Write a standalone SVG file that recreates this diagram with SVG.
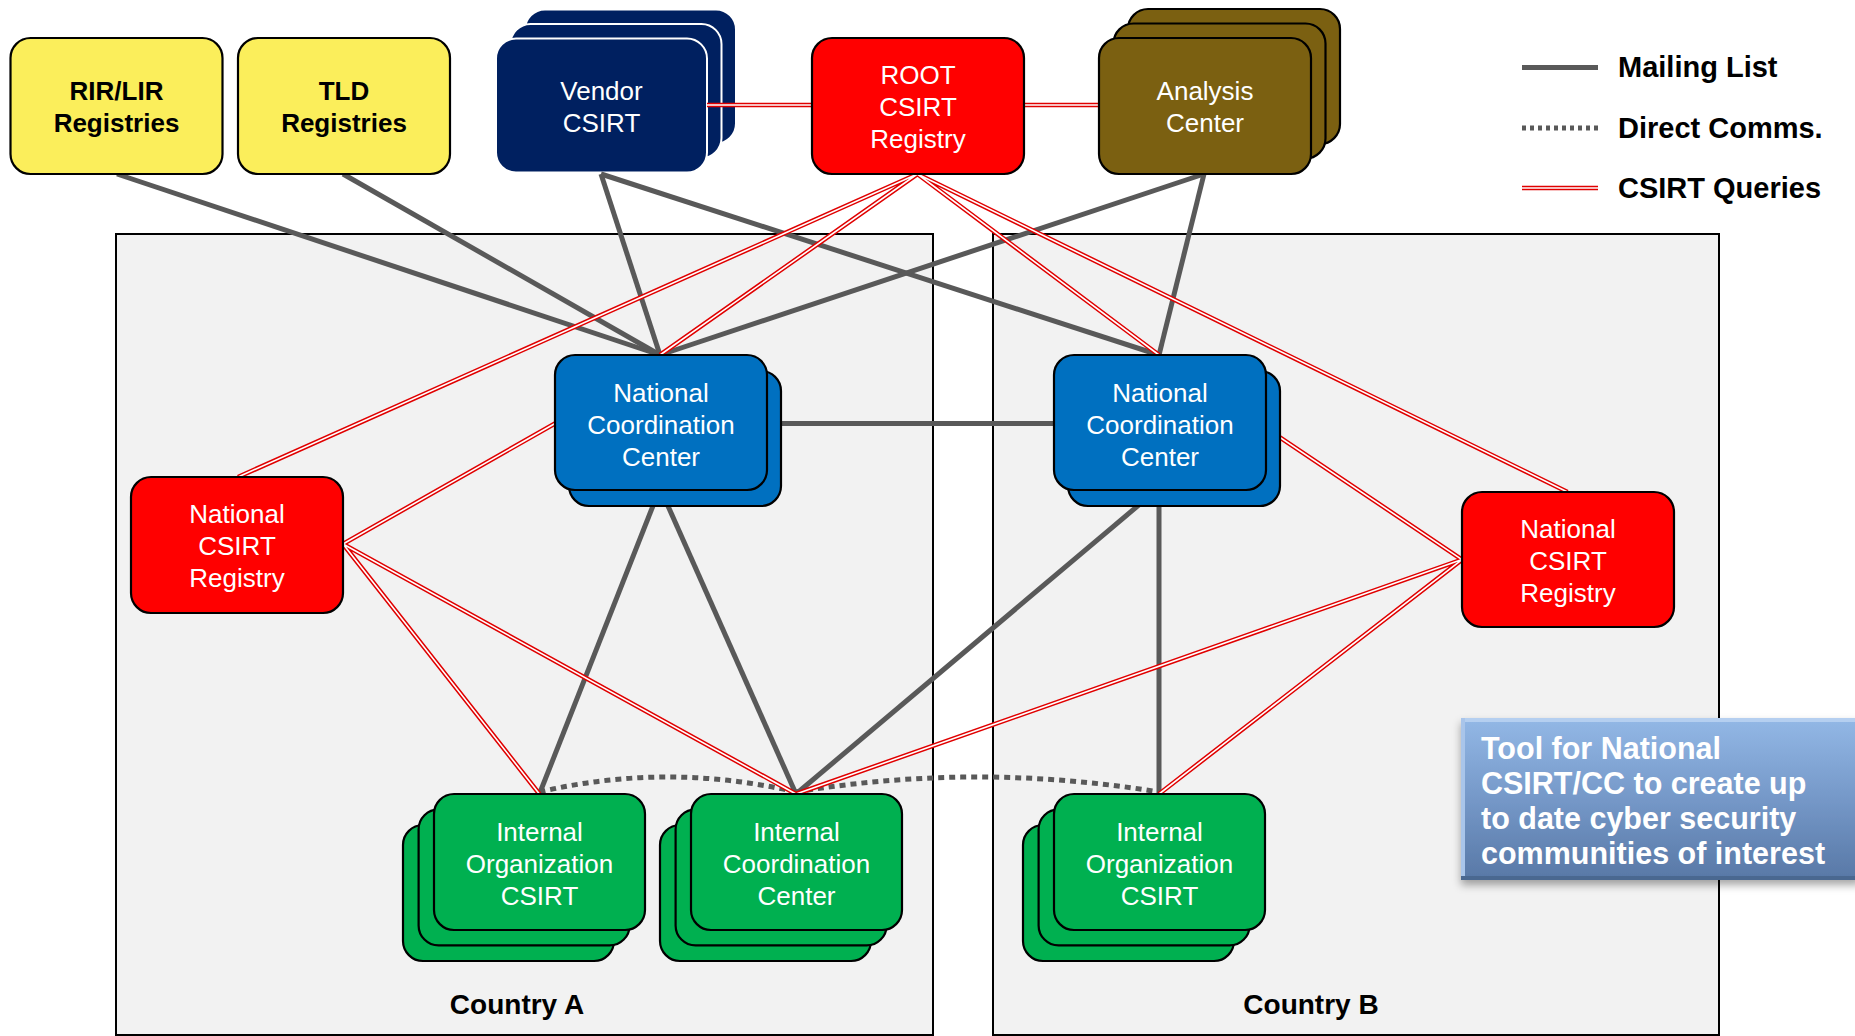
<svg xmlns="http://www.w3.org/2000/svg" xmlns:xlink="http://www.w3.org/1999/xlink" width="1855" height="1036" viewBox="0 0 1855 1036">
  <style>
    .country { fill: #f2f2f2; stroke: #000; stroke-width: 2; }
    .box { stroke: #000; stroke-width: 2.2; }
    .yellow { fill: #fbee5b; }
    .navy { fill: #002060; stroke: #fff; stroke-width: 2; }
    .red { fill: #ff0000; }
    .olive { fill: #7b6011; }
    .blue { fill: #0070c0; }
    .green { fill: #00b050; }
    .lbl { font-family: "Liberation Sans", Arial, sans-serif; font-size: 26px; fill: #fff; text-anchor: middle; }
    .lbl-dark { font-family: "Liberation Sans", Arial, sans-serif; font-size: 26px; font-weight: bold; fill: #000; text-anchor: middle; }
    .mail { fill: none; stroke: #595959; stroke-width: 5; }
    .direct { fill: none; stroke: #595959; stroke-width: 5; stroke-dasharray: 6 5; }
    .query-outer { fill: none; stroke: #e00000; stroke-width: 4.6; }
    .query-inner { fill: none; stroke: #fff; stroke-width: 1.6; }
    .legend { font-family: "Liberation Sans", Arial, sans-serif; font-size: 29px; font-weight: bold; fill: #000; }
    .country-lbl { font-family: "Liberation Sans", Arial, sans-serif; font-size: 28px; font-weight: bold; fill: #000; text-anchor: middle; }
    .tool-txt { font-family: "Liberation Sans", Arial, sans-serif; font-size: 30.5px; font-weight: bold; fill: #fff; }
  </style>
  <defs>
    <linearGradient id="toolGrad" x1="0" y1="0" x2="0" y2="1">
      <stop offset="0" stop-color="#93b8e6"/>
      <stop offset="0.5" stop-color="#7598c8"/>
      <stop offset="1" stop-color="#5878a6"/>
    </linearGradient>
    <filter id="shadow" x="-10%" y="-10%" width="130%" height="140%">
      <feDropShadow dx="0" dy="5" stdDeviation="4" flood-color="#000" flood-opacity="0.35"/>
    </filter>
    <!-- CSIRT query links, drawn twice to give the double red rule -->
    <path id="queries" d="
      M 707,105 L 812,105
      M 1024,105 L 1099,105
      M 917.4,174 L 238,477
      M 917.4,174 L 660,355
      M 917.4,174 L 1159,355
      M 917.4,174 L 1567.5,492
      M 343,544 L 555,423.5
      M 343,544 L 539.4,794
      M 343,544 L 796,794
      M 1462,559.6 L 1266,428
      M 1462,559.6 L 796,794
      M 1462,559.6 L 1159,794"/>
  </defs>

  <!-- country areas -->
  <rect class="country" x="116" y="234" width="817" height="801"/>
  <rect class="country" x="993" y="234" width="726" height="801"/>

  <!-- vendor stack sits under the links so the query rule runs over its back cards -->
  <g id="vendor-csirt">
    <rect class="navy" x="525" y="9.5" width="211" height="134" rx="20"/>
    <rect class="navy" x="510.5" y="24" width="211" height="134" rx="20"/>
    <rect class="navy" x="496" y="38.5" width="211" height="134" rx="20"/>
    <text class="lbl" x="601.5" y="100">Vendor</text>
    <text class="lbl" x="601.5" y="132">CSIRT</text>
  </g>

  <!-- connectors -->
  <g id="connectors">
    <g id="mailing-lists">
      <path class="mail" d="M 117,174 L 660,355"/>
      <path class="mail" d="M 343,174 L 660,355"/>
      <path class="mail" d="M 601,174 L 660,355"/>
      <path class="mail" d="M 601,174 L 1159,355"/>
      <path class="mail" d="M 1204,174 L 660,355"/>
      <path class="mail" d="M 1204,174 L 1159,355"/>
      <path class="mail" d="M 767,423.5 L 1054,423.5"/>
      <path class="mail" d="M 660,488 L 539.4,794"/>
      <path class="mail" d="M 660,488 L 796,794"/>
      <path class="mail" d="M 1159,488 L 796,794"/>
      <path class="mail" d="M 1159,488 L 1159,794"/>
    </g>
    <g id="direct-comms">
      <path class="direct" d="M 539.4,792 Q 667,762 796,792"/>
      <path class="direct" d="M 796,792 Q 977,762 1159,792"/>
    </g>
    <g id="csirt-queries">
      <use xlink:href="#queries" class="query-outer"/>
      <use xlink:href="#queries" class="query-inner"/>
    </g>
  </g>

  <!-- top row -->
  <g id="rir-lir">
    <rect class="box yellow" x="10.5" y="38" width="212" height="136" rx="20"/>
    <text class="lbl-dark" x="116.5" y="100">RIR/LIR</text>
    <text class="lbl-dark" x="116.5" y="132">Registries</text>
  </g>
  <g id="tld">
    <rect class="box yellow" x="238" y="38" width="212" height="136" rx="20"/>
    <text class="lbl-dark" x="344" y="100">TLD</text>
    <text class="lbl-dark" x="344" y="132">Registries</text>
  </g>
  <g id="root-registry">
    <rect class="box red" x="812" y="38" width="212" height="136" rx="20"/>
    <text class="lbl" x="918" y="84">ROOT</text>
    <text class="lbl" x="918" y="116">CSIRT</text>
    <text class="lbl" x="918" y="148">Registry</text>
  </g>
  <g id="analysis-center">
    <rect class="box olive" x="1128" y="9" width="212" height="135" rx="20"/>
    <rect class="box olive" x="1113.5" y="23.5" width="212" height="135" rx="20"/>
    <rect class="box olive" x="1099" y="38" width="212" height="136" rx="20"/>
    <text class="lbl" x="1205" y="100">Analysis</text>
    <text class="lbl" x="1205" y="132">Center</text>
  </g>

  <!-- legend -->
  <g id="legend">
    <line class="mail" x1="1522" y1="67.5" x2="1598" y2="67.5"/>
    <line x1="1522" y1="128" x2="1598" y2="128" stroke="#595959" stroke-width="5" stroke-dasharray="4 4"/>
    <line class="query-outer" x1="1522" y1="188" x2="1598" y2="188"/>
    <line class="query-inner" x1="1522" y1="188" x2="1598" y2="188"/>
    <text class="legend" x="1618" y="77">Mailing List</text>
    <text class="legend" x="1618" y="138">Direct Comms.</text>
    <text class="legend" x="1618" y="198">CSIRT Queries</text>
  </g>

  <!-- country A -->
  <g id="ncc-a">
    <rect class="box blue" x="569" y="371" width="212" height="135" rx="20"/>
    <rect class="box blue" x="555" y="355" width="212" height="135" rx="20"/>
    <text class="lbl" x="661" y="402">National</text>
    <text class="lbl" x="661" y="434">Coordination</text>
    <text class="lbl" x="661" y="466">Center</text>
  </g>
  <g id="registry-a">
    <rect class="box red" x="131" y="477" width="212" height="136" rx="20"/>
    <text class="lbl" x="237" y="523">National</text>
    <text class="lbl" x="237" y="555">CSIRT</text>
    <text class="lbl" x="237" y="587">Registry</text>
  </g>
  <g id="internal-org-a">
    <rect class="box green" x="403" y="825" width="211" height="136" rx="20"/>
    <rect class="box green" x="418.6" y="809.4" width="211" height="136" rx="20"/>
    <rect class="box green" x="434" y="794" width="211" height="136" rx="20"/>
    <text class="lbl" x="539.5" y="841">Internal</text>
    <text class="lbl" x="539.5" y="873">Organization</text>
    <text class="lbl" x="539.5" y="905">CSIRT</text>
  </g>
  <g id="internal-cc-a">
    <rect class="box green" x="660" y="825" width="211" height="136" rx="20"/>
    <rect class="box green" x="675.6" y="809.4" width="211" height="136" rx="20"/>
    <rect class="box green" x="691" y="794" width="211" height="136" rx="20"/>
    <text class="lbl" x="796.5" y="841">Internal</text>
    <text class="lbl" x="796.5" y="873">Coordination</text>
    <text class="lbl" x="796.5" y="905">Center</text>
  </g>
  <text class="country-lbl" x="517" y="1014">Country A</text>

  <!-- country B -->
  <g id="ncc-b">
    <rect class="box blue" x="1068" y="371" width="212" height="135" rx="20"/>
    <rect class="box blue" x="1054" y="355" width="212" height="135" rx="20"/>
    <text class="lbl" x="1160" y="402">National</text>
    <text class="lbl" x="1160" y="434">Coordination</text>
    <text class="lbl" x="1160" y="466">Center</text>
  </g>
  <g id="registry-b">
    <rect class="box red" x="1462" y="492" width="212" height="135" rx="20"/>
    <text class="lbl" x="1568" y="538">National</text>
    <text class="lbl" x="1568" y="570">CSIRT</text>
    <text class="lbl" x="1568" y="602">Registry</text>
  </g>
  <g id="internal-org-b">
    <rect class="box green" x="1023" y="825" width="211" height="136" rx="20"/>
    <rect class="box green" x="1038.6" y="809.4" width="211" height="136" rx="20"/>
    <rect class="box green" x="1054" y="794" width="211" height="136" rx="20"/>
    <text class="lbl" x="1159.5" y="841">Internal</text>
    <text class="lbl" x="1159.5" y="873">Organization</text>
    <text class="lbl" x="1159.5" y="905">CSIRT</text>
  </g>
  <text class="country-lbl" x="1311" y="1014">Country B</text>

  <!-- callout -->
  <g id="tool-callout">
    <rect x="1461" y="718" width="400" height="162" fill="url(#toolGrad)" filter="url(#shadow)"/>
    <rect x="1461" y="718" width="400" height="4" fill="#b5cff0"/>
    <rect x="1461" y="718" width="4" height="162" fill="#a9c5ea"/>
    <rect x="1461" y="876" width="400" height="4" fill="#4a6890"/>
    <text class="tool-txt" x="1481" y="759">Tool for National</text>
    <text class="tool-txt" x="1481" y="794">CSIRT/CC to create up</text>
    <text class="tool-txt" x="1481" y="829">to date cyber security</text>
    <text class="tool-txt" x="1481" y="864">communities of interest</text>
  </g>
</svg>
